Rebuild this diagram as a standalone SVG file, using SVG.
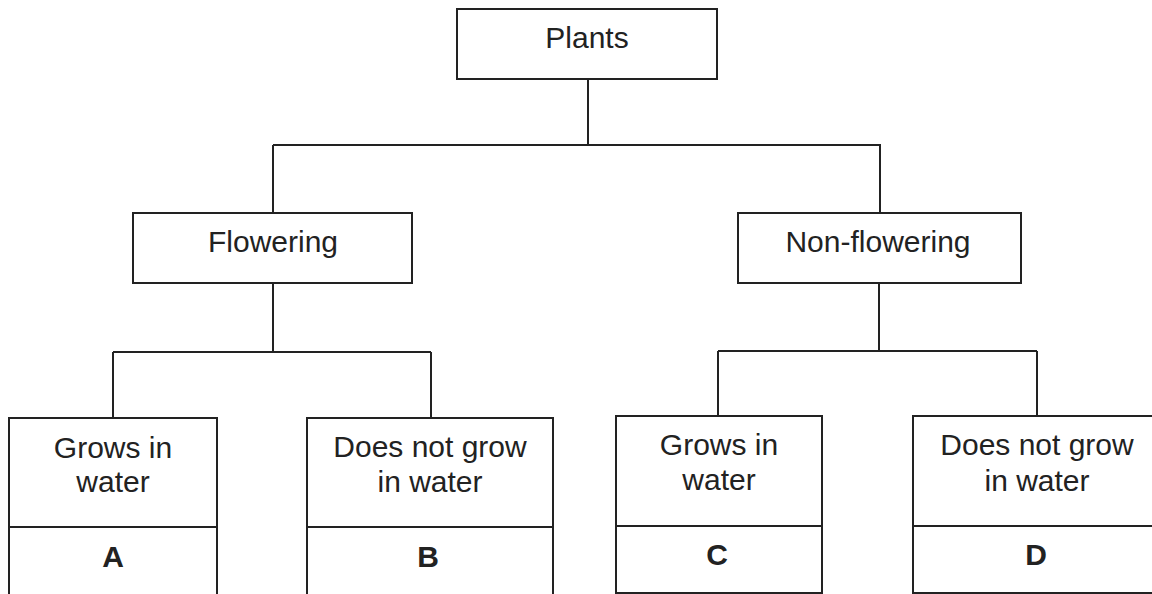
<svg xmlns="http://www.w3.org/2000/svg" width="1152" height="594" viewBox="0 0 1152 594">
<style>
.box{fill:none;stroke:#222;stroke-width:2}
.con{fill:none;stroke:#222;stroke-width:2}
.t{font-family:"Liberation Sans",Arial,sans-serif;font-size:30px;fill:#222;text-anchor:middle}
.b{font-weight:bold}
</style>
<rect width="1152" height="594" fill="#fff"/>
<g id="connectors">
<path class="con" d="M588 79 V145 M273 145 H881 M273 145 V213 M880 145 V213"/>
<path class="con" d="M273 283 V352 M113 352 H431 M113 352 V418 M431 352 V418"/>
<path class="con" d="M879 283 V351 M718 351 H1037 M718 351 V416 M1037 351 V416"/>
</g>
<g id="plants">
<rect class="box" x="457" y="9" width="260" height="70"/>
<text class="t" x="587" y="48">Plants</text>
</g>
<g id="flowering">
<rect class="box" x="133" y="213" width="279" height="70"/>
<text class="t" x="273" y="252">Flowering</text>
</g>
<g id="nonflowering">
<rect class="box" x="738" y="213" width="283" height="70"/>
<text class="t" x="878" y="252">Non-flowering</text>
</g>
<g id="A">
<rect class="box" x="9" y="418" width="208" height="190"/>
<line class="box" x1="9" y1="527" x2="217" y2="527"/>
<text class="t" x="113" y="458">Grows in</text>
<text class="t" x="113" y="492">water</text>
<text class="t b" x="113" y="567">A</text>
</g>
<g id="B">
<rect class="box" x="307" y="418" width="246" height="190"/>
<line class="box" x1="307" y1="527" x2="553" y2="527"/>
<text class="t" x="430" y="457">Does not grow</text>
<text class="t" x="430" y="492">in water</text>
<text class="t b" x="428" y="567">B</text>
</g>
<g id="C">
<rect class="box" x="616" y="416" width="206" height="177"/>
<line class="box" x1="616" y1="526" x2="822" y2="526"/>
<text class="t" x="719" y="455">Grows in</text>
<text class="t" x="719" y="490">water</text>
<text class="t b" x="717" y="565">C</text>
</g>
<g id="D">
<rect class="box" x="913" y="416" width="250" height="177"/>
<line class="box" x1="913" y1="526" x2="1163" y2="526"/>
<text class="t" x="1037" y="455">Does not grow</text>
<text class="t" x="1037" y="491">in water</text>
<text class="t b" x="1036" y="565">D</text>
</g>
</svg>
